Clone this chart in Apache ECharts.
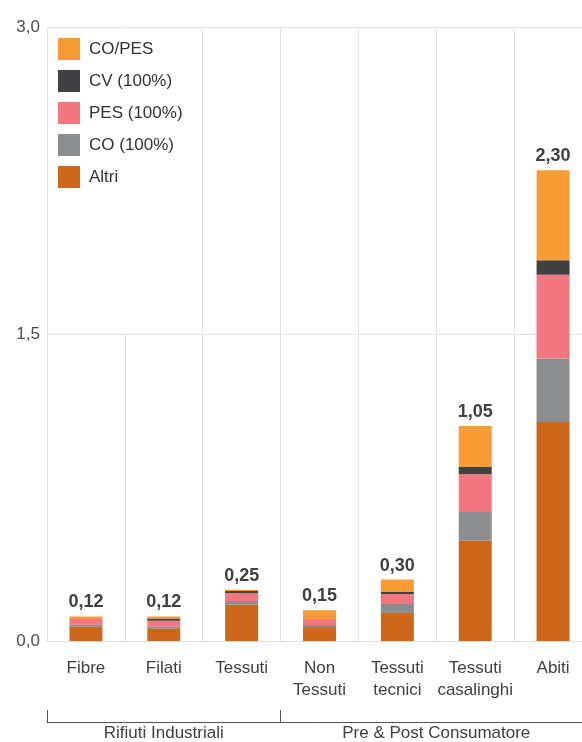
<!DOCTYPE html>
<html>
<head>
<meta charset="utf-8">
<style>
  html, body { margin: 0; padding: 0; background: #ffffff; overflow: hidden; }
  /* plot area runs slightly past the right edge of the window */
  #chart { width: 595px; height: 742px; }
</style>
<script src="https://cdn.jsdelivr.net/npm/echarts@6/dist/echarts.min.js"></script>
</head>
<body>
<div id="chart"></div>
<script>
// Categories along the x axis
const categories = ['Fibre', 'Filati', 'Tessuti', 'Non\nTessuti', 'Tessuti\ntecnici', 'Tessuti\ncasalinghi', 'Abiti'];

// Category groups shown with the bracket below the axis
const groupNames = ['Rifiuti Industriali', 'Pre & Post Consumatore'];
const groupSizes = [3, 4];

// Stacked components (bottom to top)
const altri = [0.070, 0.060, 0.178, 0.068, 0.137, 0.490, 1.07];
const co    = [0.010, 0.010, 0.017, 0.010, 0.044, 0.140, 0.31];
const pes   = [0.028, 0.029, 0.039, 0.029, 0.049, 0.185, 0.41];
const cv    = [0.000, 0.011, 0.010, 0.000, 0.010, 0.035, 0.07];
const copes = [0.012, 0.010, 0.006, 0.043, 0.060, 0.200, 0.44];

// Y axis ticks
const yMin = 0, yMax = 3, yStep = 1.5;

const colors = {
  copes: '#F79B34',
  cv: '#414042',
  pes: '#F27780',
  co: '#8C8D8E',
  altri: '#CC671C'
};

const FONT = "'Helvetica Neue', Helvetica, 'Liberation Sans', Arial, sans-serif";
const fmt = (v, d) => v.toFixed(d).replace('.', ',');

const totals = categories.map((_, i) => altri[i] + co[i] + pes[i] + cv[i] + copes[i]);

// Group boundaries and centres in category units
const groupStarts = [];
const groupCentres = [];
let acc = 0;
groupSizes.forEach(n => { groupStarts.push(acc); groupCentres.push(acc + n / 2); acc += n; });

const chart = echarts.init(document.getElementById('chart'), null, { renderer: 'canvas' });

function stackSeries(name, data, color, extra) {
  return Object.assign({
    name: name,
    type: 'bar',
    stack: 'total',
    data: data,
    barWidth: 33,
    itemStyle: { color: color },
    emphasis: { disabled: true },
    xAxisIndex: 0,
    yAxisIndex: 0
  }, extra || {});
}

const option = {
  animation: false,
  textStyle: { fontFamily: FONT },
  grid: { left: 47, top: 27, bottom: 101, right: 0, containLabel: false },
  legend: {
    orient: 'vertical',
    left: 48,
    top: 29,
    padding: [9, 15, 145, 10],
    backgroundColor: '#ffffff',
    itemWidth: 22,
    itemHeight: 22,
    itemGap: 10,
    icon: 'rect',
    selectedMode: false,
    data: ['CO/PES', 'CV (100%)', 'PES (100%)', 'CO (100%)', 'Altri'],
    textStyle: { fontSize: 17, color: '#333333', fontFamily: FONT, padding: [0, 0, 0, 4] }
  },
  xAxis: [
    {
      type: 'category',
      data: categories,
      position: 'bottom',
      boundaryGap: true,
      axisLine: { show: true, lineStyle: { color: '#dcdcdc', width: 1 } },
      axisTick: { show: false },
      splitLine: { show: true, interval: 0, lineStyle: { color: '#e3e3e3', width: 1 } },
      axisLabel: {
        interval: 0,
        fontSize: 17,
        color: '#404040',
        lineHeight: 22,
        margin: 16,
        fontFamily: FONT
      }
    },
    {
      // bracket line with ticks at group boundaries
      type: 'category',
      data: categories,
      position: 'bottom',
      offset: 81,
      boundaryGap: true,
      axisLine: { show: true, lineStyle: { color: '#555555', width: 1 } },
      axisTick: {
        show: true,
        inside: true,
        length: 12,
        interval: (idx) => groupStarts.indexOf(idx) !== -1,
        lineStyle: { color: '#555555', width: 1 }
      },
      axisLabel: { show: false },
      splitLine: { show: false }
    },
    {
      // group names centred under each group
      type: 'value',
      position: 'bottom',
      offset: 81,
      min: 0,
      max: acc,
      interval: 0.5,
      axisLine: { show: false },
      axisTick: { show: false },
      splitLine: { show: false },
      axisLabel: {
        fontSize: 17,
        color: '#404040',
        margin: 3,
        fontFamily: FONT,
        formatter: (v) => {
          const k = groupCentres.findIndex(c => Math.abs(c - v) < 1e-6);
          return k === -1 ? '' : groupNames[k];
        }
      }
    }
  ],
  yAxis: {
    type: 'value',
    min: yMin,
    max: yMax,
    interval: yStep,
    axisLine: { show: false },
    axisTick: { show: false },
    splitLine: { show: true, lineStyle: { color: '#e3e3e3', width: 1 } },
    axisLabel: {
      fontSize: 17,
      color: '#4d4d4d',
      margin: 7,
      padding: [0, 0, 8, 0],
      fontFamily: FONT,
      formatter: (v) => fmt(v, 1)
    }
  },
  series: [
    stackSeries('Altri', altri, colors.altri),
    stackSeries('CO (100%)', co, colors.co),
    stackSeries('PES (100%)', pes, colors.pes),
    stackSeries('CV (100%)', cv, colors.cv),
    stackSeries('CO/PES', copes, colors.copes, {
      label: {
        show: true,
        position: 'top',
        distance: 5,
        fontSize: 18,
        fontWeight: 'bold',
        color: '#404040',
        fontFamily: FONT,
        formatter: (p) => fmt(totals[p.dataIndex], 2)
      }
    })
  ]
};

chart.setOption(option);
</script>
</body>
</html>
